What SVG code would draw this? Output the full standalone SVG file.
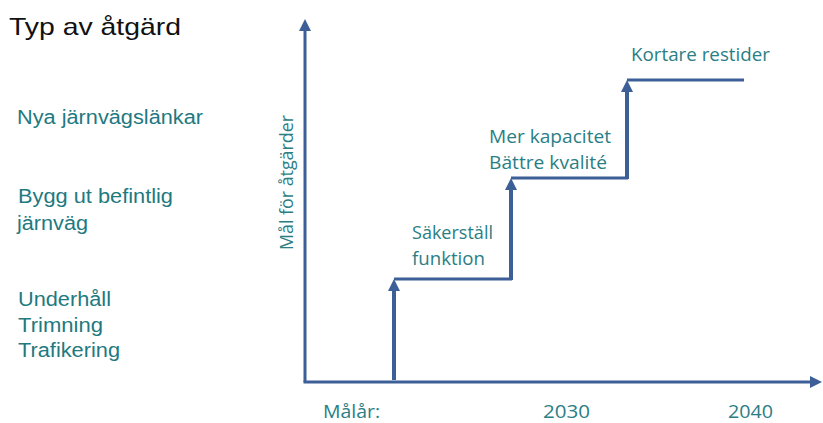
<svg xmlns="http://www.w3.org/2000/svg" width="823" height="423" viewBox="0 0 823 423">
  <style>
    .title { font-family: "Liberation Sans", Arial, sans-serif; font-size: 24px; fill: #111111; }
    .cat { font-family: "Liberation Sans", Arial, sans-serif; font-size: 20px; fill: #22797f; }
    .lbl { font-family: "Open Sans", "Noto Sans", sans-serif; font-size: 18px; fill: #2a7e85; }
    .axis { stroke: #3b5f96; stroke-width: 3; fill: none; }
    .step { stroke: #3b5f96; stroke-width: 4; fill: none; }
    .tread { stroke: #3b5f96; stroke-width: 3; fill: none; }
  </style>
  <defs>
    <marker id="arr" markerUnits="userSpaceOnUse" viewBox="0 0 12 12" markerWidth="12" markerHeight="12" refX="6" refY="6" orient="auto">
      <path d="M0,0 L12,6 L0,12 z" fill="#3b5f96"/>
    </marker>
  </defs>
  <rect width="823" height="423" fill="#ffffff"/>

  <g id="title">
    <text class="title" x="9" y="35" textLength="172" lengthAdjust="spacingAndGlyphs">Typ av åtgärd</text>
  </g>
  <g id="cat-nya">
    <text class="cat" x="17" y="124" textLength="186" lengthAdjust="spacingAndGlyphs">Nya järnvägslänkar</text>
  </g>
  <g id="cat-bygg">
    <text class="cat" x="18" y="203" textLength="155" lengthAdjust="spacingAndGlyphs">Bygg ut befintlig</text>
    <text class="cat" x="17" y="230" textLength="71" lengthAdjust="spacingAndGlyphs">järnväg</text>
  </g>
  <g id="cat-underhall">
    <text class="cat" x="18" y="306" textLength="93" lengthAdjust="spacingAndGlyphs">Underhåll</text>
    <text class="cat" x="18" y="332" textLength="85" lengthAdjust="spacingAndGlyphs">Trimning</text>
    <text class="cat" x="18" y="357" textLength="102" lengthAdjust="spacingAndGlyphs">Trafikering</text>
  </g>

  <g id="y-label">
    <text class="lbl" transform="translate(293,250) rotate(-90)" x="0" y="0" textLength="135" lengthAdjust="spacingAndGlyphs">Mål för åtgärder</text>
  </g>

  <g id="connectors">
    <line class="axis" x1="305" y1="382" x2="305" y2="25" marker-end="url(#arr)"/>
    <line class="axis" x1="303.5" y1="382" x2="816" y2="382" marker-end="url(#arr)"/>
    <line class="step" x1="394" y1="380" x2="394" y2="285" marker-end="url(#arr)"/>
    <line class="tread" x1="394" y1="279" x2="512" y2="279"/>
    <line class="step" x1="511" y1="280" x2="511" y2="184" marker-end="url(#arr)"/>
    <line class="tread" x1="511" y1="178" x2="628" y2="178"/>
    <line class="step" x1="627" y1="179" x2="627" y2="86" marker-end="url(#arr)"/>
    <line class="tread" x1="627" y1="80" x2="744" y2="80"/>
  </g>

  <g id="step-1">
    <text class="lbl" x="412" y="239" textLength="81" lengthAdjust="spacingAndGlyphs">Säkerställ</text>
    <text class="lbl" x="412" y="265" textLength="73" lengthAdjust="spacingAndGlyphs">funktion</text>
  </g>
  <g id="step-2">
    <text class="lbl" x="489" y="143" textLength="122" lengthAdjust="spacingAndGlyphs">Mer kapacitet</text>
    <text class="lbl" x="489" y="169" textLength="118" lengthAdjust="spacingAndGlyphs">Bättre kvalité</text>
  </g>
  <g id="step-3">
    <text class="lbl" x="631" y="61" textLength="139" lengthAdjust="spacingAndGlyphs">Kortare restider</text>
  </g>

  <g id="x-labels">
    <text class="lbl" x="323" y="418" textLength="57" lengthAdjust="spacingAndGlyphs">Målår:</text>
    <text class="lbl" x="543" y="418" textLength="47" lengthAdjust="spacingAndGlyphs">2030</text>
    <text class="lbl" x="728" y="418" textLength="45" lengthAdjust="spacingAndGlyphs">2040</text>
  </g>
</svg>
